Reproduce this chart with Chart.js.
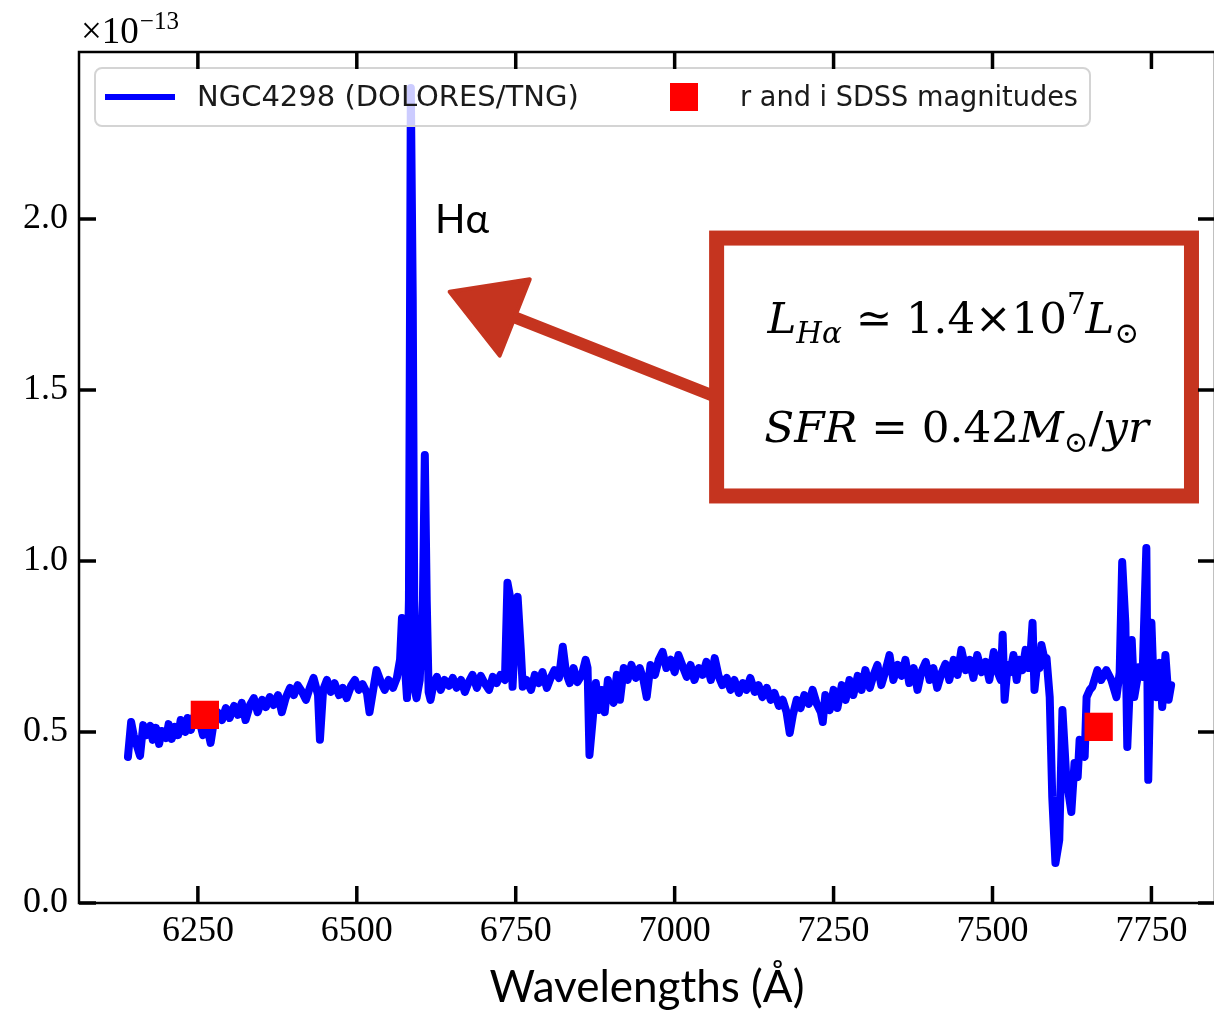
<!DOCTYPE html>
<html>
<head>
<meta charset="utf-8">
<script src="https://cdn.jsdelivr.net/npm/chart.js@4.4.1/dist/chart.umd.min.js"></script>
<style>
  html, body { margin: 0; padding: 0; overflow: hidden; background: #fff; }
  #wrap { position: relative; width: 1214px; height: 1014px; overflow: hidden; }
  canvas { position: absolute; left: 0; top: 0; }
</style>
</head>
<body>
<div id="wrap"><canvas id="spectrumChart" width="1220" height="1014"></canvas></div>
<script>
// spectrum (wavelength in Angstrom, flux in units of 1e-13)
const wavelengths = [
  6140, 6145, 6149, 6159, 6164, 6170, 6175, 6179, 6184, 6189,
  6193, 6200, 6204, 6209, 6214, 6219, 6223, 6230, 6234, 6239,
  6245, 6253, 6258, 6264, 6270, 6275, 6281, 6288, 6294, 6300,
  6307, 6313, 6319, 6325, 6332, 6338, 6344, 6351, 6357, 6363,
  6369, 6376, 6382, 6388, 6395, 6401, 6407, 6414, 6420, 6426,
  6432, 6439, 6442, 6447, 6453, 6459, 6465, 6472, 6478, 6484,
  6491, 6497, 6503, 6509, 6516, 6520, 6527, 6531, 6538, 6544,
  6550, 6557, 6563,
  6568, 6571, 6574, 6579, 6582, 6585, 6588, 6591, 6594, 6599,
  6604, 6607, 6610, 6613, 6616, 6621, 6626, 6632, 6638, 6645,
  6651, 6657, 6664, 6670, 6676, 6682, 6689, 6695, 6701, 6708,
  6714, 6720, 6726, 6733, 6737, 6742, 6745, 6750, 6753, 6758,
  6761, 6767, 6774, 6780, 6786, 6792, 6799, 6805, 6811, 6818,
  6824, 6829, 6835, 6841, 6847, 6854, 6860, 6863, 6866, 6871,
  6876, 6881, 6885, 6890, 6895, 6899, 6904, 6909, 6914, 6920,
  6926, 6932, 6939, 6945, 6951, 6956, 6962, 6969, 6975, 6981,
  6987, 6994, 7000, 7006, 7013, 7019, 7025, 7031, 7038, 7044,
  7050, 7057, 7063, 7069, 7075, 7082, 7088, 7094, 7101, 7107,
  7113, 7119, 7126, 7132, 7138, 7145, 7151, 7157, 7164, 7170,
  7176, 7181, 7186, 7192, 7198, 7204, 7211, 7217, 7223, 7230,
  7233, 7237, 7244, 7250, 7256, 7263, 7269, 7275, 7281, 7288,
  7294, 7300, 7307, 7313, 7319, 7325, 7332, 7338, 7344, 7351,
  7357, 7363, 7369, 7376, 7382, 7388, 7395, 7401, 7407, 7413,
  7420, 7426, 7432, 7439, 7445, 7451, 7458, 7464, 7470, 7476,
  7483, 7489, 7495, 7502, 7508, 7513, 7516, 7519, 7524, 7528,
  7533, 7538, 7542, 7547, 7552, 7557, 7560, 7563, 7566, 7571,
  7574, 7577, 7582, 7585, 7590, 7594, 7599, 7605, 7610, 7616,
  7624, 7629, 7634, 7637, 7645, 7648, 7653, 7657, 7665, 7671,
  7679, 7687, 7695, 7700, 7704, 7709, 7712, 7719, 7723, 7731,
  7736, 7742, 7745, 7750, 7753, 7758, 7763, 7767, 7772, 7777,
  7781
];
const flux = [
  0.427, 0.529, 0.491, 0.430, 0.520, 0.491, 0.518, 0.477, 0.512, 0.465,
  0.503, 0.482, 0.523, 0.480, 0.515, 0.491, 0.535, 0.500, 0.541, 0.506,
  0.550, 0.529, 0.491, 0.520, 0.468, 0.529, 0.558, 0.535, 0.570, 0.541,
  0.576, 0.550, 0.585, 0.535, 0.579, 0.599, 0.558, 0.594, 0.573, 0.602,
  0.579, 0.608, 0.558, 0.599, 0.629, 0.608, 0.637, 0.617, 0.594, 0.629,
  0.658, 0.608, 0.477, 0.623, 0.652, 0.617, 0.643, 0.608, 0.629, 0.599,
  0.635, 0.652, 0.623, 0.640, 0.614, 0.558, 0.637, 0.681, 0.646, 0.623,
  0.652, 0.629, 0.658,
  0.711, 0.833, 0.740, 0.599, 0.886, 2.383, 1.763, 0.623, 0.599, 0.652,
  0.886, 1.310, 0.886, 0.617, 0.594, 0.643, 0.661, 0.623, 0.652, 0.635,
  0.658, 0.629, 0.652, 0.617, 0.646, 0.667, 0.629, 0.664, 0.643, 0.623,
  0.661, 0.643, 0.667, 0.652, 0.936, 0.886, 0.632, 0.827, 0.895, 0.740,
  0.632, 0.652, 0.623, 0.667, 0.643, 0.675, 0.629, 0.658, 0.681, 0.658,
  0.749, 0.675, 0.643, 0.687, 0.646, 0.667, 0.711, 0.687, 0.433, 0.535,
  0.643, 0.564, 0.623, 0.558, 0.652, 0.614, 0.585, 0.667, 0.594, 0.687,
  0.652, 0.696, 0.658, 0.687, 0.652, 0.602, 0.696, 0.667, 0.711, 0.734,
  0.687, 0.711, 0.675, 0.725, 0.690, 0.661, 0.696, 0.652, 0.687, 0.667,
  0.705, 0.652, 0.716, 0.664, 0.637, 0.658, 0.623, 0.652, 0.614, 0.643,
  0.623, 0.658, 0.617, 0.637, 0.602, 0.629, 0.594, 0.614, 0.576, 0.594,
  0.558, 0.497, 0.550, 0.594, 0.570, 0.608, 0.582, 0.623, 0.585, 0.558,
  0.529, 0.608, 0.564, 0.623, 0.570, 0.637, 0.594, 0.652, 0.608, 0.664,
  0.623, 0.681, 0.629, 0.667, 0.696, 0.637, 0.681, 0.725, 0.652, 0.696,
  0.664, 0.711, 0.643, 0.687, 0.623, 0.675, 0.705, 0.652, 0.687, 0.629,
  0.673, 0.699, 0.652, 0.711, 0.667, 0.740, 0.681, 0.711, 0.658, 0.725,
  0.675, 0.705, 0.652, 0.734, 0.675, 0.652, 0.784, 0.594, 0.696, 0.675,
  0.725, 0.652, 0.711, 0.681, 0.740, 0.687, 0.734, 0.819, 0.623, 0.711,
  0.687, 0.754, 0.711, 0.716, 0.602, 0.310, 0.117, 0.184, 0.564, 0.368,
  0.266, 0.409, 0.368, 0.477, 0.427, 0.602, 0.623, 0.632, 0.681, 0.652,
  0.681, 0.652, 0.602, 0.673, 0.997, 0.819, 0.456, 0.769, 0.602, 0.690,
  0.661, 1.038, 0.360, 0.819, 0.661, 0.602, 0.702, 0.573, 0.725, 0.594,
  0.637
];

// r and i SDSS photometric points
const sdssWavelengths = [6261, 7667];
const sdssFlux = [0.550, 0.515];

const seriesNames = ['NGC4298 (DOLORES/TNG)', 'r and i SDSS magnitudes'];
const xTicks = [6250, 6500, 6750, 7000, 7250, 7500, 7750];
const yTicks = [0.0, 0.5, 1.0, 1.5, 2.0];

const BLUE = '#0000ff';
const RED = '#ff0000';
const MARKER_RED = '#c5341f';

// inward ticks on all four sides plus the axes frame
function drawFrame(chart) {
    const { ctx, chartArea: a, scales } = chart;
    const len = 17;
    ctx.save();
    ctx.strokeStyle = '#000';
    ctx.lineWidth = 3.5;
    ctx.beginPath();
    scales.x.ticks.forEach(t => {
        const px = scales.x.getPixelForValue(t.value);
        ctx.moveTo(px, a.bottom); ctx.lineTo(px, a.bottom - len);
        ctx.moveTo(px, a.top); ctx.lineTo(px, a.top + len);
    });
    scales.y.ticks.forEach(t => {
        const py = scales.y.getPixelForValue(t.value);
        ctx.moveTo(a.left, py); ctx.lineTo(a.left + len, py);
        ctx.moveTo(a.right, py); ctx.lineTo(a.right - len, py);
    });
    ctx.stroke();
    ctx.lineWidth = 2.5;
    ctx.strokeRect(a.left, a.top, a.right - a.left, a.bottom - a.top);

    // offset text of the y axis
    ctx.fillStyle = '#000';
    ctx.textBaseline = 'alphabetic';
    ctx.font = '37px "Liberation Serif"';
    ctx.fillText('\u00d710', a.left + 2, 43);
    const w = ctx.measureText('\u00d710').width;
    ctx.font = '25px "Liberation Serif"';
    ctx.fillText('\u221213', a.left + 3 + w, 29);
    ctx.restore();
}

function runsWidth(ctx, runs, k) {
    let w = 0;
    runs.forEach(r => {
        ctx.font = r.font(k);
        w += ctx.measureText(r.t).width;
    });
    return w;
}

// draw a line of mixed italic / upright text, sized to span the given width
function drawRuns(ctx, runs, x, y, width) {
    const k = width / runsWidth(ctx, runs, 1);
    runs.forEach(r => {
        ctx.font = r.font(k);
        ctx.fillText(r.t, x, y + (r.dy || 0) * k);
        x += ctx.measureText(r.t).width;
    });
}

function drawNotes(chart) {
    const { ctx, scales: { x, y } } = chart;
    ctx.save();

    // H-alpha label
    ctx.fillStyle = '#000';
    ctx.font = '40px Lato';
    ctx.textBaseline = 'alphabetic';
    ctx.fillText('H\u03b1', x.getPixelForValue(6623), y.getPixelForValue(1.959));

    // arrow from the box towards the line
    const tailX = x.getPixelForValue(7058), tailY = y.getPixelForValue(1.485);
    const tipX = x.getPixelForValue(6646), tipY = y.getPixelForValue(1.787);
    const ang = Math.atan2(tipY - tailY, tipX - tailX);
    const headLen = 70, headHalf = 41;
    const bx = tipX - headLen * Math.cos(ang), by = tipY - headLen * Math.sin(ang);
    ctx.strokeStyle = MARKER_RED;
    ctx.fillStyle = MARKER_RED;
    ctx.lineWidth = 12;
    ctx.lineCap = 'round';
    ctx.beginPath();
    ctx.moveTo(tailX, tailY);
    ctx.lineTo(bx, by);
    ctx.stroke();
    ctx.beginPath();
    ctx.moveTo(tipX, tipY);
    ctx.lineTo(bx + headHalf * Math.sin(ang), by - headHalf * Math.cos(ang));
    ctx.lineTo(bx - headHalf * Math.sin(ang), by + headHalf * Math.cos(ang));
    ctx.closePath();
    ctx.lineJoin = 'round';
    ctx.lineWidth = 4;
    ctx.fill();
    ctx.stroke();

    // box with the result
    const x0 = x.getPixelForValue(7066), x1 = x.getPixelForValue(7813);
    const y0 = y.getPixelForValue(1.944), y1 = y.getPixelForValue(1.190);
    ctx.lineWidth = 15;
    ctx.lineJoin = 'miter';
    ctx.strokeRect(x0, y0, x1 - x0, y1 - y0);

    const fam = '"DejaVu Serif"';
    const rm = k => (40 * k).toFixed(1) + 'px ' + fam;
    const itl = k => 'italic ' + (40 * k).toFixed(1) + 'px ' + fam;
    const sub = k => (27 * k).toFixed(1) + 'px ' + fam;
    const subI = k => 'italic ' + (27 * k).toFixed(1) + 'px ' + fam;
    ctx.fillStyle = '#000';
    drawRuns(ctx, [
        { t: 'L', font: itl },
        { t: 'H\u03b1', font: subI, dy: 9 },
        { t: ' \u2243 ', font: rm },
        { t: '1.4\u00d710', font: rm },
        { t: '7', font: sub, dy: -17 },
        { t: 'L', font: itl },
        { t: '\u2299', font: sub, dy: 9 }
    ], x.getPixelForValue(7146), y.getPixelForValue(1.667), 372);
    drawRuns(ctx, [
        { t: 'SFR', font: itl },
        { t: ' = ', font: rm },
        { t: '0.42', font: rm },
        { t: 'M', font: itl },
        { t: '\u2299', font: sub, dy: 9 },
        { t: '/', font: rm },
        { t: 'yr', font: itl }
    ], x.getPixelForValue(7141), y.getPixelForValue(1.348), 385);
    ctx.restore();
}

function drawLegend(chart) {
    const ctx = chart.ctx;
    const lx = 95, ly = 68, lw = 995, lh = 58, r = 7;
    ctx.save();
    ctx.beginPath();
    ctx.moveTo(lx + r, ly);
    ctx.arcTo(lx + lw, ly, lx + lw, ly + lh, r);
    ctx.arcTo(lx + lw, ly + lh, lx, ly + lh, r);
    ctx.arcTo(lx, ly + lh, lx, ly, r);
    ctx.arcTo(lx, ly, lx + lw, ly, r);
    ctx.closePath();
    ctx.fillStyle = 'rgba(255,255,255,0.8)';
    ctx.fill();
    ctx.strokeStyle = '#d4d4d4';
    ctx.lineWidth = 2;
    ctx.stroke();

    const cy = ly + lh / 2;
    ctx.strokeStyle = BLUE;
    ctx.lineWidth = 6;
    ctx.beginPath();
    ctx.moveTo(105, cy); ctx.lineTo(175, cy);
    ctx.stroke();
    ctx.fillStyle = RED;
    ctx.fillRect(670, cy - 14, 28, 28);

    ctx.fillStyle = '#1a1a1a';
    ctx.font = '29px "DejaVu Sans"';
    ctx.textBaseline = 'middle';
    ctx.fillText(seriesNames[0], 197, cy + 1, 390);
    ctx.fillText(seriesNames[1], 740, cy + 1, 338);
    ctx.restore();
}

const overlay = {
    id: 'overlay',
    afterDatasetsDraw(chart) {
        drawNotes(chart);
        drawLegend(chart);
    },
    afterDraw(chart) {
        drawFrame(chart);
    }
};

const ctx = document.getElementById('spectrumChart').getContext('2d');
new Chart(ctx, {
    type: 'scatter',
    data: {
        datasets: [{
            label: seriesNames[0],
            data: wavelengths.map((w, i) => ({ x: w, y: flux[i] })),
            showLine: true,
            borderColor: BLUE,
            backgroundColor: BLUE,
            borderWidth: 8,
            borderJoinStyle: 'round',
            borderCapStyle: 'round',
            pointRadius: 0,
            tension: 0,
            order: 2
        }, {
            label: seriesNames[1],
            data: sdssWavelengths.map((w, i) => ({ x: w, y: sdssFlux[i] })),
            pointStyle: 'rect',
            pointRadius: 20,
            pointBorderWidth: 0,
            backgroundColor: RED,
            borderColor: RED,
            order: 1
        }]
    },
    options: {
        responsive: false,
        devicePixelRatio: 1,
        animation: false,
        events: [],
        layout: { autoPadding: false, padding: { left: 0, top: 52, right: 5, bottom: 0 } },
        plugins: {
            legend: { display: false },
            tooltip: { enabled: false }
        },
        scales: {
            x: {
                type: 'linear',
                min: 6063,
                max: 7850,
                afterBuildTicks: s => { s.ticks = xTicks.map(v => ({ value: v })); },
                afterFit: s => { s.height = 111; s.paddingLeft = 0; s.paddingRight = 0; },
                grid: { display: false, drawTicks: false },
                border: { display: false },
                ticks: {
                    padding: 7,
                    color: '#000',
                    font: { family: 'Liberation Serif', size: 36 },
                    maxRotation: 0,
                    autoSkip: false,
                    callback: v => String(v)
                },
                title: {
                    display: true,
                    text: 'Wavelengths (\u00c5)',
                    color: '#000',
                    font: { family: 'Lato', size: 44 },
                    padding: { top: 0, bottom: 0 }
                }
            },
            y: {
                type: 'linear',
                min: 0,
                max: 2.488,
                afterBuildTicks: s => { s.ticks = yTicks.map(v => ({ value: v })); },
                afterFit: s => { s.width = 79; s.paddingTop = 0; s.paddingBottom = 0; },
                grid: { display: false, drawTicks: false },
                border: { display: false },
                ticks: {
                    padding: 11,
                    color: '#000',
                    font: { family: 'Liberation Serif', size: 36 },
                    callback: v => Number(v).toFixed(1)
                }
            }
        }
    },
    plugins: [overlay]
});
</script>
</body>
</html>
